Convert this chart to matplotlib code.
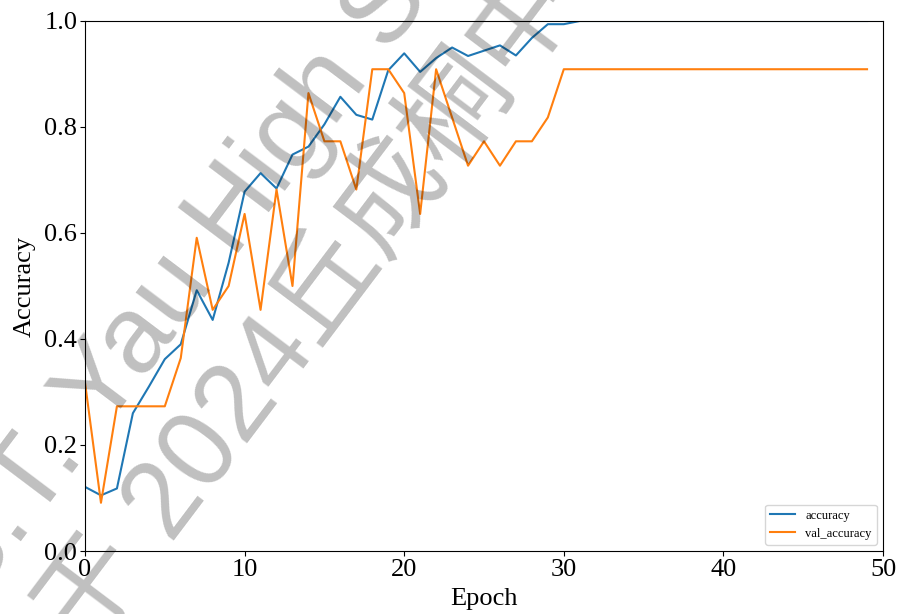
import numpy as np
import matplotlib
matplotlib.use("Agg")
import matplotlib.pyplot as plt

epochs = list(range(50))
accuracy = [0.121, 0.105, 0.118, 0.260, 0.310, 0.362, 0.390, 0.492, 0.436, 0.544,
            0.678, 0.713, 0.684, 0.748, 0.763, 0.805, 0.857, 0.823, 0.814, 0.907,
            0.939, 0.904, 0.930, 0.950, 0.934, 0.944, 0.954, 0.935, 0.968, 0.994,
            0.994] + [1.0] * 19
val_accuracy = [0.318, 0.091, 0.273, 0.273, 0.273, 0.273, 0.364, 0.591, 0.455, 0.500,
                0.636, 0.455, 0.682, 0.500, 0.864, 0.773, 0.773, 0.682, 0.909, 0.909,
                0.864, 0.636, 0.909, 0.818, 0.727, 0.773, 0.727, 0.773, 0.773, 0.818,
                0.909] + [0.909] * 19
series_labels = ["accuracy", "val_accuracy"]
x_label = "Epoch"
y_label = "Accuracy"
wm_line1 = "S.T. Yau High School Science Award"
wm_line2 = "于 2024丘成桐中学科学奖"

plt.rcParams["font.family"] = ["Liberation Serif", "DejaVu Serif"]

fig = plt.figure(figsize=(8.98, 6.14), dpi=100)
ax = fig.add_axes([85 / 898, 1 - 551 / 614, (883 - 85) / 898, (551 - 21) / 614])

ax.plot(epochs, accuracy, color="#1f77b4", lw=1.5, label=series_labels[0])
ax.plot(epochs, val_accuracy, color="#ff7f0e", lw=1.5, label=series_labels[1])
ax.set_xlim(0, 50)
ax.set_ylim(0, 1.0)
ax.set_xticks([0, 10, 20, 30, 40, 50])
ax.set_yticks([0.0, 0.2, 0.4, 0.6, 0.8, 1.0])
ax.tick_params(labelsize=19, pad=2)
ax.set_xlabel(x_label, fontsize=19, labelpad=5)
ax.set_ylabel(y_label, fontsize=19, labelpad=6)
ax.legend(loc="lower right", fontsize=9)

wm_kw = dict(rotation=53, rotation_mode="anchor", ha="left", va="baseline",
             fontsize=79, color="black", alpha=0.25, zorder=10,
             family=["Liberation Sans", "Noto Sans CJK SC"])
fig.text(-28 / 898, 1 - 607 / 614, wm_line1, **wm_kw)
fig.text(86 / 898, 1 - 656 / 614, wm_line2, **wm_kw)

fig.savefig("out.png", dpi=100)
